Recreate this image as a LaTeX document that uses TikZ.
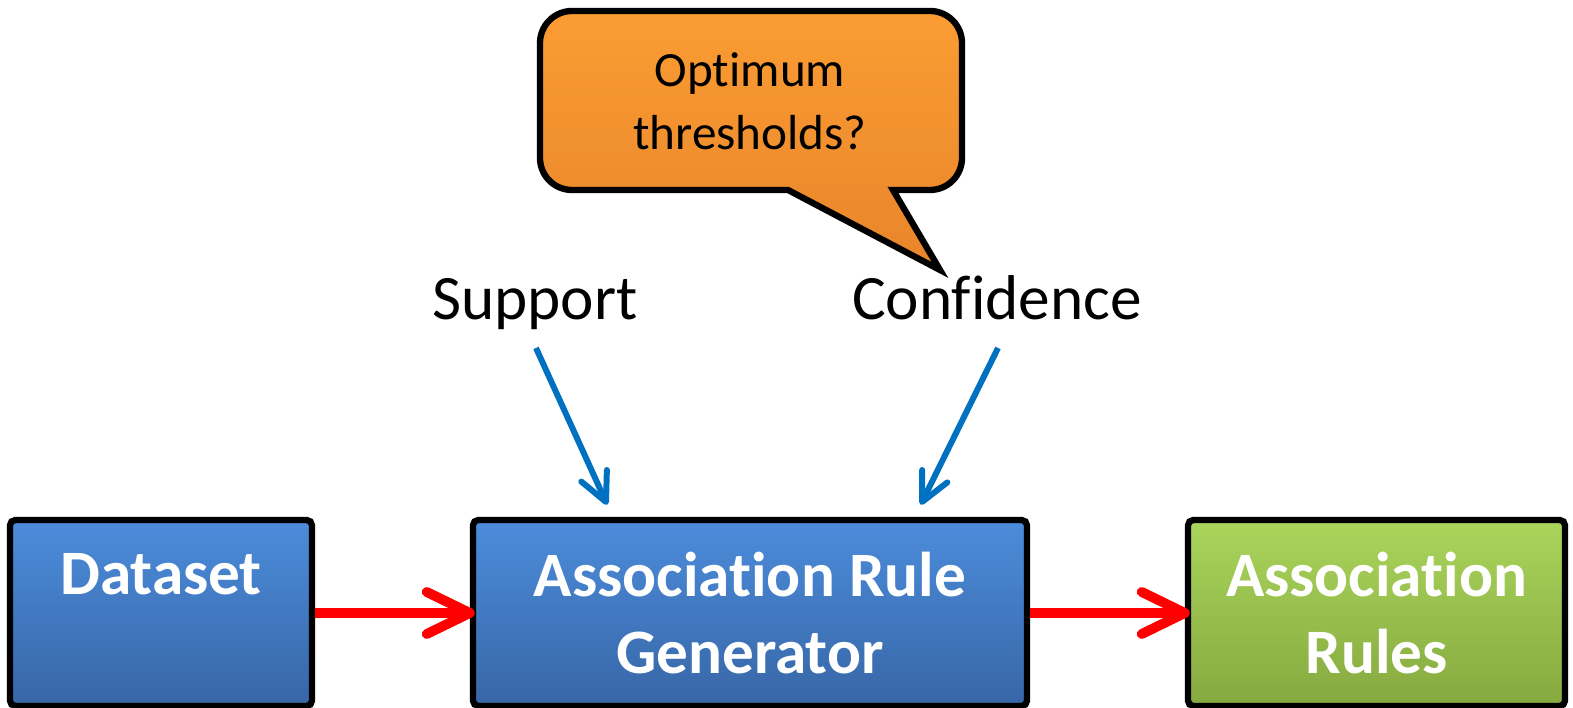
\documentclass[tikz,border=0pt]{standalone}
\usepackage{fontspec}
\setmainfont[RawFeature={-liga;-clig;-dlig;-calt}]{Carlito}
\usetikzlibrary{calc}
\newcommand{\nolig}{\kern0pt }
\definecolor{blueT}{HTML}{4C8CDB}
\definecolor{blueB}{HTML}{3766A6}
\definecolor{greenT}{HTML}{AAD55C}
\definecolor{greenB}{HTML}{86A93F}
\definecolor{orangeT}{HTML}{FB9C33}
\definecolor{orangeB}{HTML}{E8852A}
\definecolor{arrowblue}{HTML}{0070C0}
\tikzset{
  procbox/.style={draw=black, line width=1.8pt, rounded corners=1.5pt,
    minimum height=1.86cm, align=center, text=white,
    font=\fontsize{18}{22}\selectfont\bfseries, inner sep=0pt},
  bluebox/.style={procbox, top color=blueT, bottom color=blueB},
  greenbox/.style={procbox, top color=greenT, bottom color=greenB},
  redline/.style={draw=red, line width=2.8pt},
  redhead/.style={draw=red, line width=2.8pt, line cap=round, line join=round},
  blueline/.style={draw=arrowblue, line width=1.7pt},
  bluehead/.style={draw=arrowblue, line width=1.7pt, line cap=round, line join=round},
  paramlabel/.style={font=\fontsize{18}{22}\selectfont, text=black, inner sep=0pt, anchor=base},
  bubble/.style={draw=black, line width=1.8pt, top color=orangeT, bottom color=orangeB},
  bubbletext/.style={font=\fontsize{14}{18}\selectfont, align=center, text=black}
}
\begin{document}
\begin{tikzpicture}
\useasboundingbox (0,0) rectangle (15.73,7.08);
% process boxes
\node[bluebox, minimum width=3.02cm] (ds) at (1.61,0.95) {Dataset\\\mbox{}};
\node[bluebox, minimum width=5.54cm] (arg) at (7.50,0.95) {Associat\nolig ion Rule\\Generator};
\node[greenbox, minimum width=3.77cm] (ar) at (13.765,0.95) {Associat\nolig ion\\Rules};
% red connectors
\draw[redline] (ds.east) -- (arg.west);
\draw[redhead] ($(arg.west)!0.48cm!26:(ds.east)$) -- (arg.west) -- ($(arg.west)!0.48cm!-26:(ds.east)$);
\draw[redline] (arg.east) -- (ar.west);
\draw[redhead] ($(ar.west)!0.48cm!26:(arg.east)$) -- (ar.west) -- ($(ar.west)!0.48cm!-26:(arg.east)$);
% parameter labels
\node[paramlabel] (sup) at (5.35,3.88) {Support};
\node[paramlabel] (conf) at (9.97,3.88) {Conf\nolig idence};
\coordinate (s1) at (5.36,3.60);
\coordinate (s2) at (6.06,2.06);
\coordinate (c1) at (9.98,3.60);
\coordinate (c2) at (9.22,2.06);
\draw[blueline] (s1) -- (s2);
\draw[bluehead] ($(s2)!0.32cm!26:(s1)$) -- (s2) -- ($(s2)!0.32cm!-26:(s1)$);
\draw[blueline] (c1) -- (c2);
\draw[bluehead] ($(c2)!0.32cm!26:(c1)$) -- (c2) -- ($(c2)!0.32cm!-26:(c1)$);
% speech bubble
\draw[bubble] (5.40,6.0) [rounded corners=0.32cm] -- (5.40,6.97) -- (9.62,6.97) -- (9.62,5.18)
  [sharp corners] -- (8.93,5.18) -- (9.40,4.38) -- (7.88,5.18)
  [rounded corners=0.32cm] -- (5.40,5.18) [sharp corners] -- cycle;
\node[bubbletext] (opt) at (7.50,6.065) {Optimum\\thresholds?};
\end{tikzpicture}
\end{document}
